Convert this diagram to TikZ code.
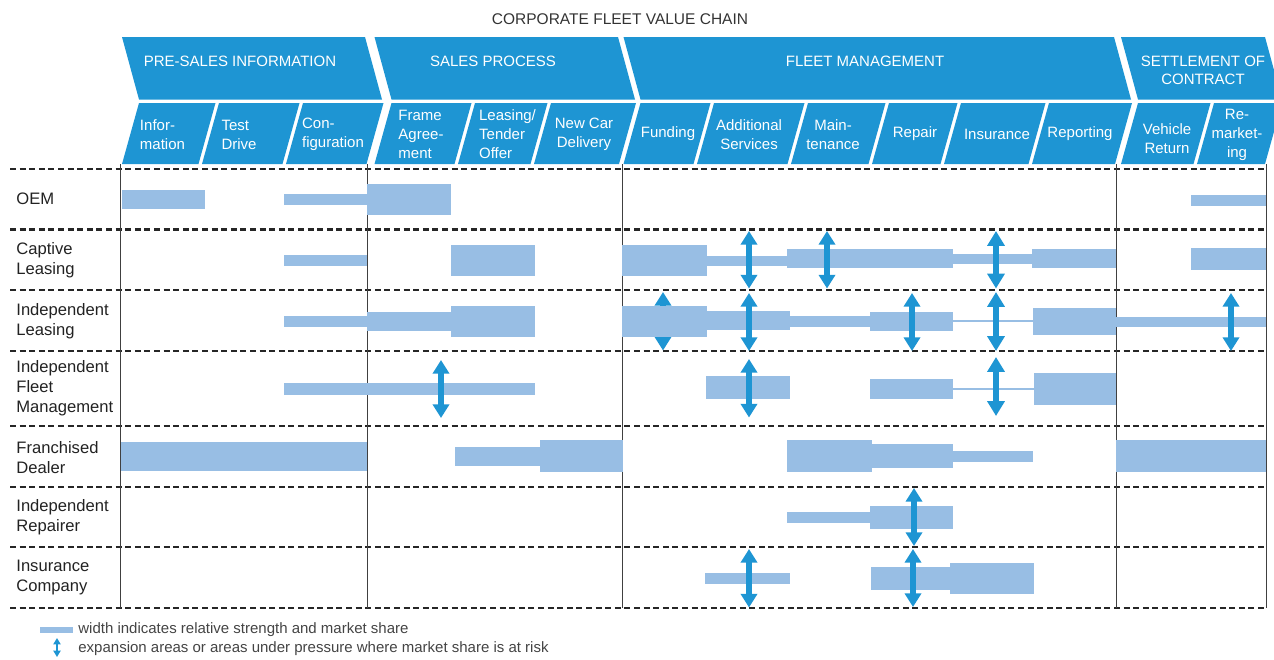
\documentclass[tikz,border=0pt]{standalone}
\usepackage{fontspec}
\setmainfont{Liberation Sans}
\usetikzlibrary{arrows.meta}

\definecolor{chainblue}{HTML}{1E95D3}
\definecolor{sharebar}{HTML}{98BEE4}
\definecolor{labelgray}{HTML}{222222}
\definecolor{titlegray}{HTML}{333333}
\definecolor{keygray}{HTML}{444444}

\begin{document}
\begin{tikzpicture}[
    x=0.5pt, y=-0.5pt,
    stage/.style={fill=chainblue},
    stagetext/.style={text=white, font=\fontsize{7.5}{9.25}\selectfont,
                      align=center, inner sep=0pt},
    subtext/.style={text=white, font=\fontsize{7.5}{9.5}\selectfont,
                    inner sep=0pt},
    player/.style={text=labelgray, font=\fontsize{8.3}{10}\selectfont,
                   align=left, anchor=west, inner sep=0pt},
    keytext/.style={text=keygray, font=\fontsize{7.5}{9}\selectfont,
                    anchor=west, inner sep=0pt},
    share/.style={fill=sharebar},
    rowline/.style={line width=1.1pt, dash pattern=on 3pt off 1.8pt,
                    black!85},
    colline/.style={line width=0.5pt, black!75},
    risk/.style={chainblue, line width=2.7pt,
                 {Triangle[width=8pt,length=6.8pt]}-{Triangle[width=8pt,length=6.8pt]}},
    bigrisk/.style={chainblue, line width=3.3pt,
                    {Triangle[width=8.4pt,length=7.4pt]}-{Triangle[width=8.4pt,length=7.4pt]}},
    keyrisk/.style={chainblue, line width=1.3pt,
                    {Triangle[width=3.6pt,length=3.2pt]}-{Triangle[width=3.6pt,length=3.2pt]}},
]
\useasboundingbox (0,0) rectangle (1274,659);

% --- Title ---
\node[text=titlegray, font=\fontsize{7.75}{9}\selectfont, inner sep=0pt]
    (title) at (620,19.5) {CORPORATE FLEET VALUE CHAIN};

% --- Stage banners (top edge x, right edge x) ---
\foreach \xl/\xr in {122/365, 374.5/618, 623.5/1114, 1121/1265}
    \fill[stage] (\xl,37) -- (\xr,37) -- ({\xr+17},99.5) -- ({\xl+17},99.5) -- cycle;

\node[stagetext] (presales) at (240,61) {PRE-SALES INFORMATION};
\node[stagetext] (sales) at (493,61) {SALES PROCESS};
\node[stagetext] (fleet) at (865,61) {FLEET MANAGEMENT};
\node[stagetext] (settle) at (1203,70.5) {SETTLEMENT OF\\CONTRACT};

% --- Steps below the banners (bottom edge x range) ---
\foreach \xl/\xr in {122/198.5, 202/282.5, 286/366.5,
                     374.5/454.5, 458/530.5, 534/619,
                     623.5/693.5, 697/787.5, 791/868.5, 872/940.5, 944/1028.5, 1032/1115,
                     1121/1193.5, 1197/1265}
    \fill[stage] (\xl,164) -- ({\xl+17},103) -- ({\xr+17},103) -- (\xr,164) -- cycle;

\node[subtext, align=left] (info) at (162.5,134.5) {Infor-\\mation};
\node[subtext, align=left] (test) at (239,134.5) {Test\\Drive};
\node[subtext, align=left] (config) at (333,134.5) {Con-\\figuration};
\node[subtext, align=left] (frame) at (421,134) {Frame\\Agree-\\ment};
\node[subtext, align=left] (tender) at (507.5,134) {Leasing/\\Tender\\Offer};
\node[subtext, align=center] (delivery) at (584,134.5) {New Car\\Delivery};
\node[subtext] (funding) at (668,134) {Funding};
\node[subtext, align=center] (services) at (749,134.5) {Additional\\Services};
\node[subtext, align=center] (maint) at (833,134.5) {Main-\\tenance};
\node[subtext] (repair) at (915,134) {Repair};
\node[subtext] (insure) at (997,134) {Insurance};
\node[subtext] (report) at (1080,134) {Reporting};
\node[subtext, align=center] (return) at (1167,138.5) {Vehicle\\Return};
\node[subtext, align=center] (remarket) at (1237,134.5) {Re-\\market-\\ing};

% --- Grid ---
\foreach \y in {169,229.5,290,351,426,487,547,608}
    \draw[rowline] (10,\y) -- (1266,\y);
\foreach \x in {120.5,367,622,1116,1266}
    \draw[colline] (\x,164) -- (\x,608);

% --- Players ---
\node[player] (oem) at (16,199) {OEM};
\node[player] (captive) at (16,260) {Captive\\Leasing};
\node[player] (indleasing) at (16,321) {Independent\\Leasing};
\node[player] (indfleet) at (16,388) {Independent\\Fleet\\Management};
\node[player] (dealer) at (16,457.5) {Franchised\\Dealer};
\node[player] (repairer) at (16,517) {Independent\\Repairer};
\node[player] (insurer) at (16,578) {Insurance\\Company};

% funding arrow sits behind its bar
\draw[risk] (663,292) -- (663,350.5);

% --- Strength bars: x from / x to / centre / width ---
\foreach \xa/\xb/\yc/\h in {
    122/205/199/19, 284/367/199/11, 367/451/199/31, 1191/1266/200/11,
    284/367/260.5/11, 451/535/260.5/31, 622/707/260.5/31, 707/787/260.5/10,
    787/953/258.5/18.5, 953/1032/258.5/10, 1032/1116/258.5/18.5, 1191/1266/258.5/22,
    284/367/321.3/10.7, 367/451/321/19, 451/535/321/31, 622/707/321/31,
    707/790/320.7/19, 790/870/321.3/10.7, 870/953/321.7/18.7, 953/1033/321/2.4,
    1033/1116/321.2/27, 1116/1266/322/10.7,
    284/535/388.7/12, 706/790/387.7/23.3, 870/953/389/19.3, 953/1034/389/2.4,
    1034/1116/389/31.7,
    120.5/367/456.3/28.7, 455/540/456.3/19.3, 540/623/456/32, 787/872/456/31.7,
    872/953/456/23.3, 953/1033/456.3/10.7, 1116/1266/456/31.7,
    787/870/517.2/11, 870/953/517.3/23.3,
    705/790/578.7/10.7, 871/950/578.7/22.7, 950/1034/578.5/31.7}
    \fill[share] (\xa,{\yc-\h/2}) rectangle (\xb,{\yc+\h/2});

% --- Expansion / pressure arrows: x / top / bottom ---
\foreach \x/\ya/\yb in {749/231/288.5, 827/231/288.5,
                        749/293/351, 912/293/351, 1231/293/351,
                        441/360/418, 749/359/417.5,
                        914/488/546,
                        749/549/607.5, 913/549/607}
    \draw[risk] (\x,\ya) -- (\x,\yb);
\foreach \x/\ya/\yb in {996/231/288.5, 996/292/351, 996/357/416}
    \draw[bigrisk] (\x,\ya) -- (\x,\yb);

% --- Key ---
\fill[share] (40,627) rectangle (73,633);
\node[keytext] (keywidth) at (78,629.5) {width indicates relative strength and market share};
\draw[keyrisk] (57,638) -- (57,657);
\node[keytext] (keyarrow) at (78,648.5) {expansion areas or areas under pressure where market share is at risk};
\end{tikzpicture}
\end{document}
